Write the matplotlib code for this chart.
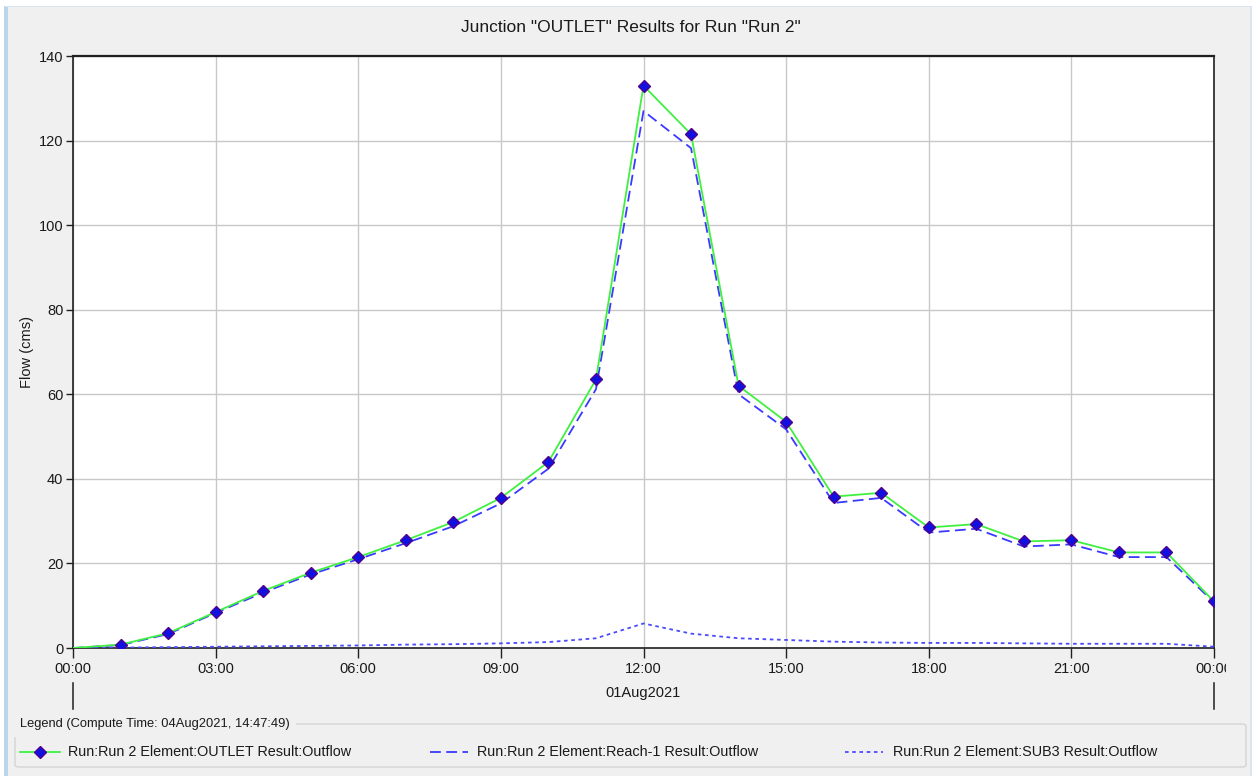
import matplotlib
matplotlib.use("Agg")
import matplotlib.pyplot as plt
from matplotlib.patches import Rectangle, FancyBboxPatch
from matplotlib.lines import Line2D
from matplotlib.transforms import Bbox, TransformedBbox

plt.rcParams['font.family'] = ['Liberation Sans', 'DejaVu Sans']

hours = list(range(25))
outlet = [0, 0.8, 3.5, 8.5, 13.5, 17.8, 21.5, 25.5, 29.8, 35.5, 44.0, 63.5, 133.0,
          121.5, 62.0, 53.5, 35.8, 36.7, 28.5, 29.3, 25.2, 25.5, 22.6, 22.6, 11.0]
reach1 = [0, 0.7, 3.3, 8.3, 13.1, 17.4, 21.0, 24.8, 28.8, 34.2, 42.4, 61.2, 127.0,
          118.2, 60.0, 51.7, 34.3, 35.5, 27.3, 28.2, 24.0, 24.5, 21.5, 21.5, 10.8]
sub3 = [0, 0.1, 0.2, 0.3, 0.4, 0.5, 0.6, 0.8, 0.9, 1.1, 1.4, 2.3, 5.8,
        3.4, 2.3, 1.9, 1.5, 1.3, 1.2, 1.2, 1.1, 1.0, 1.0, 1.0, 0.3]
xtick_pos = [0, 3, 6, 9, 12, 15, 18, 21, 24]
xtick_labels = ["00:00", "03:00", "06:00", "09:00", "12:00", "15:00", "18:00", "21:00", "00:00"]
ytick_pos = [0, 20, 40, 60, 80, 100, 120, 140]
labels = ["Run:Run 2 Element:OUTLET Result:Outflow",
          "Run:Run 2 Element:Reach-1 Result:Outflow",
          "Run:Run 2 Element:SUB3 Result:Outflow"]

W, H = 1255, 776
fig = plt.figure(figsize=(W / 100, H / 100), dpi=100, facecolor='white')

def fx(px):
    return px / W

def fy(py):
    return 1 - py / H

# panel background
fig.patches.append(Rectangle((fx(5), 0), fx(1250) - fx(5), fy(6), transform=fig.transFigure,
                             facecolor='#f0f0f0', edgecolor='none', zorder=-10))
fig.patches.append(Rectangle((fx(4), 0), fx(4), fy(6), transform=fig.transFigure,
                             facecolor='#bcd4ec', edgecolor='none', zorder=-9))
fig.patches.append(Rectangle((fx(1250), 0), fx(2), fy(6), transform=fig.transFigure,
                             facecolor='#d8e4f0', edgecolor='none', zorder=-9))
fig.patches.append(Rectangle((fx(5), fy(7)), fx(1250) - fx(5), 1 / H, transform=fig.transFigure,
                             facecolor='#d8e4f0', edgecolor='none', zorder=-9))

ax = fig.add_axes([fx(73), fy(648), fx(1214) - fx(73), fy(56) - fy(648)])
ax.set_facecolor('white')

ax.plot(hours, sub3, color='#4a4aff', lw=1.3, linestyle=(0, (2, 2)), zorder=3)
ax.plot(hours, reach1, color='#3a3aff', lw=1.3, linestyle=(0, (6, 3)), zorder=4)
ax.plot(hours, outlet, color='#40f040', lw=1.3, zorder=5)
ax.plot(hours[1:], outlet[1:], linestyle='none', marker='D', markersize=6,
        markerfacecolor='#1010e0', markeredgecolor='#500090', markeredgewidth=1.0, zorder=6)

ax.set_xlim(0, 24)
ax.set_ylim(0, 140)
ax.set_xticks(xtick_pos)
ax.set_xticklabels(xtick_labels)
ax.set_yticks(ytick_pos)
ax.grid(True, color='#c8c8c8', lw=1.0, zorder=0)
ax.set_axisbelow(True)
for s in ['top', 'left', 'bottom', 'right']:
    ax.spines[s].set_color('#202020')
    ax.spines[s].set_linewidth(1.2)
ax.spines['top'].set_linewidth(1.6)
ax.tick_params(axis='both', direction='out', length=5, width=1, color='#202020',
               labelsize=10.5, labelcolor='#1a1a1a')
ax.tick_params(axis='x', length=7, pad=3)
ax.tick_params(axis='y', pad=2)
ax.set_ylabel("Flow (cms)", fontsize=10.5, color='#1a1a1a', labelpad=3)

clipbox = TransformedBbox(Bbox([[0, 0], [fx(1226), 1]]), fig.transFigure)
for lbl in ax.get_xticklabels():
    lbl.set_clip_box(clipbox)
    lbl.set_clip_on(True)

fig.text(fx(631), fy(28), 'Junction "OUTLET" Results for Run "Run 2"', ha='center', va='center',
         fontsize=12.5, color='#1a1a1a')

# date bracket lines and label
for xp in [73, 1214]:
    fig.add_artist(Line2D([fx(xp), fx(xp)], [fy(683), fy(709)], transform=fig.transFigure,
                          color='#202020', lw=1.1))
fig.text(fx(643), fy(693), "01Aug2021", ha='center', va='center', fontsize=10.5, color='#1a1a1a')

# legend group box
fig.patches.append(FancyBboxPatch((fx(15), fy(767)), fx(1246) - fx(15), fy(724) - fy(767),
                                  boxstyle='round,pad=0,rounding_size=0.003',
                                  transform=fig.transFigure, facecolor='none',
                                  edgecolor='#d4d4d4', lw=1.0, zorder=-5))
fig.text(fx(20), fy(724), "Legend (Compute Time: 04Aug2021, 14:47:49)", ha='left', va='center',
         fontsize=9.3, color='#1a1a1a', backgroundcolor='#f0f0f0')

ly = fy(752)
fig.add_artist(Line2D([fx(20), fx(60)], [ly, ly], transform=fig.transFigure,
                      color='#40f040', lw=1.3))
fig.add_artist(Line2D([fx(40)], [ly], transform=fig.transFigure, linestyle='none',
                      marker='D', markersize=6, markerfacecolor='#1010e0',
                      markeredgecolor='#500090', markeredgewidth=1.0))
fig.text(fx(68), ly, labels[0], ha='left', va='center', fontsize=10.4, color='#1a1a1a')

fig.add_artist(Line2D([fx(430), fx(468)], [ly, ly], transform=fig.transFigure,
                      color='#3a3aff', lw=1.3, linestyle=(0, (6, 3))))
fig.text(fx(477), ly, labels[1], ha='left', va='center', fontsize=10.4, color='#1a1a1a')

fig.add_artist(Line2D([fx(845), fx(883)], [ly, ly], transform=fig.transFigure,
                      color='#4a4aff', lw=1.3, linestyle=(0, (2, 2))))
fig.text(fx(893), ly, labels[2], ha='left', va='center', fontsize=10.4, color='#1a1a1a')

fig.savefig("out.png", dpi=100, facecolor=fig.get_facecolor())
